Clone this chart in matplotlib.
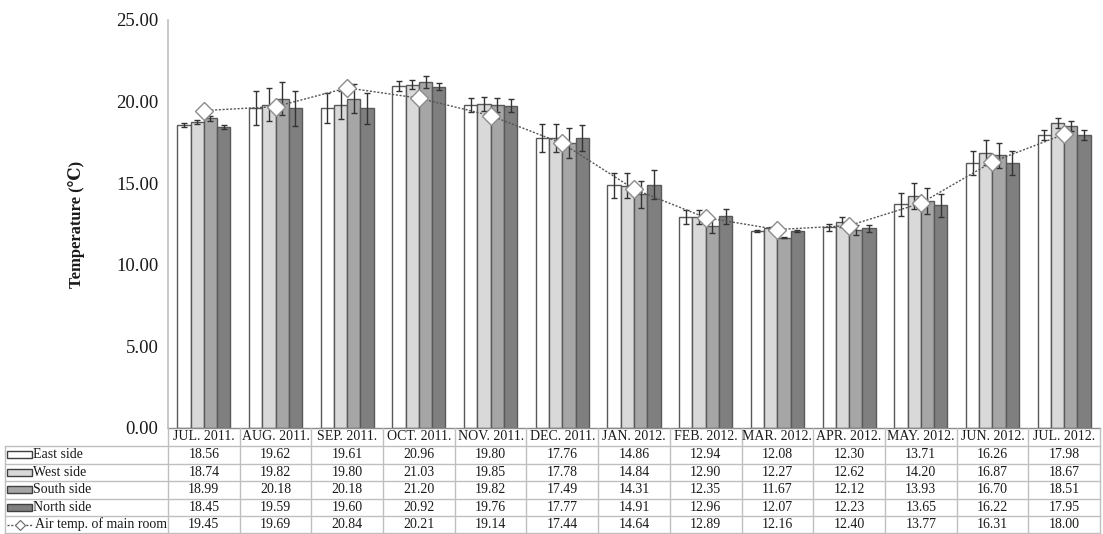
import matplotlib
matplotlib.use("Agg")
import matplotlib.pyplot as plt
import numpy as np

months = ["JUL. 2011.", "AUG. 2011.", "SEP. 2011.", "OCT. 2011.", "NOV. 2011.",
          "DEC. 2011.", "JAN. 2012.", "FEB. 2012.", "MAR. 2012.", "APR. 2012.",
          "MAY. 2012.", "JUN. 2012.", "JUL. 2012."]

east = [18.56, 19.62, 19.61, 20.96, 19.80, 17.76, 14.86, 12.94, 12.08, 12.30, 13.71, 16.26, 17.98]
west = [18.74, 19.82, 19.80, 21.03, 19.85, 17.78, 14.84, 12.90, 12.27, 12.62, 14.20, 16.87, 18.67]
south = [18.99, 20.18, 20.18, 21.20, 19.82, 17.49, 14.31, 12.35, 11.67, 12.12, 13.93, 16.70, 18.51]
north = [18.45, 19.59, 19.60, 20.92, 19.76, 17.77, 14.91, 12.96, 12.07, 12.23, 13.65, 16.22, 17.95]
air = [19.45, 19.69, 20.84, 20.21, 19.14, 17.44, 14.64, 12.89, 12.16, 12.40, 13.77, 16.31, 18.00]

# standard deviations (error bar half-lengths)
east_err = [0.12, 1.05, 0.90, 0.28, 0.43, 0.84, 0.77, 0.41, 0.06, 0.22, 0.71, 0.74, 0.31]
west_err = [0.12, 1.00, 0.85, 0.28, 0.42, 0.86, 0.77, 0.43, 0.06, 0.29, 0.80, 0.77, 0.31]
south_err = [0.15, 1.00, 0.90, 0.35, 0.43, 0.92, 0.82, 0.43, 0.04, 0.31, 0.80, 0.77, 0.33]
north_err = [0.12, 1.07, 0.95, 0.22, 0.40, 0.79, 0.89, 0.44, 0.05, 0.23, 0.71, 0.74, 0.31]

series_names = ["East side", "West side", "South side", "North side"]
line_name = "Air temp. of main room"
yticks = [0.0, 5.0, 10.0, 15.0, 20.0, 25.0]

colors = ["#ffffff", "#d9d9d9", "#a6a6a6", "#7f7f7f"]
edge = "#595959"
grid_col = "#bfbfbf"
serif = ["Liberation Serif", "DejaVu Serif"]
txt_col = "#1a1a1a"

W, H = 1103, 534
fig = plt.figure(figsize=(W / 100, H / 100), dpi=100)

# plot area in pixel units
L, R, T, B = 168, 1100, 20, 428
ax = fig.add_axes([L / W, 1 - B / H, (R - L) / W, (B - T) / H])

n = len(months)
x = np.arange(n)
bw = 0.185
data = [east, west, south, north]
errs = [east_err, west_err, south_err, north_err]
for k in range(4):
    pos = x + (k - 1.5) * bw
    ax.bar(pos, data[k], width=bw, color=colors[k], edgecolor=edge, linewidth=1.0, zorder=2)
    ax.errorbar(pos, data[k], yerr=errs[k], fmt="none", ecolor="#333333",
                elinewidth=1.0, capsize=2.3, capthick=1.0, zorder=3)

ax.plot(x, air, linestyle=(0, (1.5, 1.2)), color="#555555", linewidth=1.0,
        marker="D", markersize=9, markerfacecolor="white", markeredgecolor="#8c8c8c",
        markeredgewidth=1.0, zorder=4)

ax.set_xlim(-0.5, n - 0.5)
ax.set_ylim(0, 25)
ax.set_yticks(yticks)
ax.set_yticklabels([f"{v:.2f}" for v in yticks], fontfamily=serif, fontsize=13.5,
                   color=txt_col)
ax.tick_params(axis="y", length=0, pad=7)
ax.set_xticks([])
for s in ["top", "right", "bottom"]:
    ax.spines[s].set_visible(False)
ax.spines["left"].set_color(grid_col)
ax.spines["left"].set_linewidth(1.2)
ax.set_ylabel("Temperature (\u2103)", fontfamily=serif, fontsize=12, fontweight="bold",
              labelpad=22, color=txt_col)

# data table underneath, drawn in pixel space
tab = fig.add_axes([0, 0, 1, 1])
tab.set_xlim(0, W)
tab.set_ylim(H, 0)
tab.axis("off")

colw = (R - L) / n
row_edges = [428, 446, 463.5, 481, 498.5, 516, 533]
lab_left = 5

# horizontal lines
tab.plot([L, R], [row_edges[0], row_edges[0]], color="#8c8c8c", lw=1.0)
for yv in row_edges[1:]:
    tab.plot([lab_left, R], [yv, yv], color=grid_col, lw=1.0)
# vertical lines
for i in range(n + 1):
    xv = L + i * colw
    tab.plot([xv, xv], [row_edges[0], row_edges[-1]], color=grid_col, lw=1.0)
tab.plot([lab_left, lab_left], [row_edges[1], row_edges[-1]], color=grid_col, lw=1.0)

fs = 10
for i, m in enumerate(months):
    cx = L + (i + 0.5) * colw
    tab.text(cx, (row_edges[0] + row_edges[1]) / 2, m, ha="center", va="center",
             fontfamily=serif, fontsize=fs, color=txt_col)

rows = data + [air]
for r, vals in enumerate(rows):
    cy = (row_edges[r + 1] + row_edges[r + 2]) / 2
    for i, v in enumerate(vals):
        cx = L + (i + 0.5) * colw
        tab.text(cx, cy, f"{v:.2f}", ha="center", va="center",
                 fontfamily=serif, fontsize=fs, color=txt_col)

# legend keys in the row label column
for r in range(4):
    cy = (row_edges[r + 1] + row_edges[r + 2]) / 2
    tab.add_patch(plt.Rectangle((7, cy - 3.5), 25, 7, facecolor=colors[r],
                                edgecolor="#404040", lw=1.0))
    tab.text(33, cy, series_names[r], ha="left", va="center",
             fontfamily=serif, fontsize=fs, color=txt_col)
cy = (row_edges[5] + row_edges[6]) / 2
tab.plot([7, 32], [cy, cy], linestyle=(0, (1.5, 1.2)), color="#555555", lw=1.0)
tab.plot([19.5], [cy], marker="D", markersize=5, markerfacecolor="white",
         markeredgecolor="#666666", markeredgewidth=0.8)
tab.text(35, cy, line_name, ha="left", va="center",
         fontfamily=serif, fontsize=fs, color=txt_col)

fig.savefig("out.png", dpi=100, facecolor="white")
